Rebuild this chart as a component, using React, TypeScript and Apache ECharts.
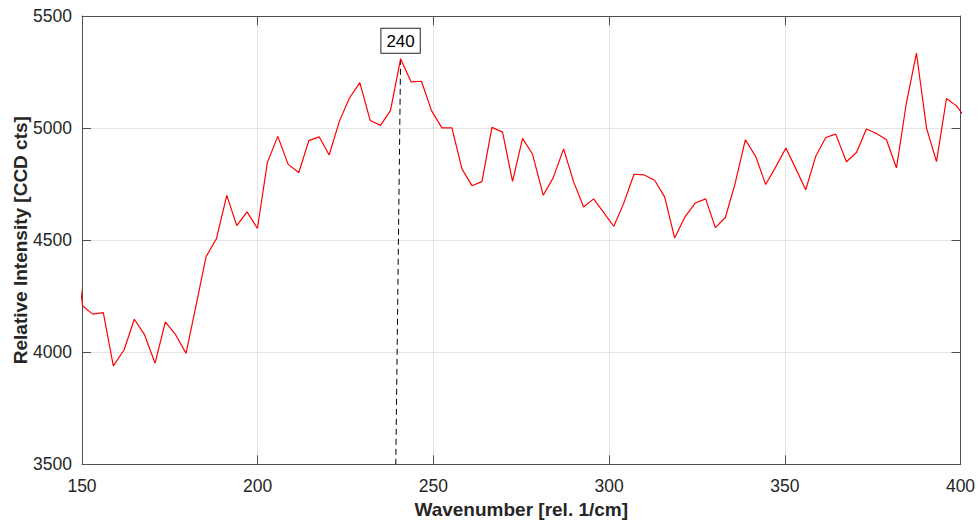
import React, { useEffect, useRef } from "react";
import * as echarts from "echarts";

// Wavenumber [rel. 1/cm]
const wavenumbers: number[] = [
  147.3, 150.2, 153.05, 156.06, 158.91, 161.96, 164.89, 167.74, 170.79, 173.72,
  176.68, 179.61, 182.46, 185.31, 188.24, 191.2, 194.05, 196.98, 199.92, 202.76,
  205.72, 208.66, 211.7, 214.55, 217.48, 220.33, 223.26, 226.11, 229.07, 232.0,
  234.94, 237.78, 240.66, 243.68, 246.61, 249.46, 252.42, 255.27, 258.12, 260.97,
  263.81, 266.66, 269.68, 272.52, 275.37, 278.22, 281.26, 284.11, 287.05, 289.89,
  292.74, 295.59, 298.43, 301.34, 304.13, 307.09, 310.02, 312.96, 315.8, 318.65,
  321.61, 324.54, 327.48, 330.24, 333.09, 335.85, 338.78, 341.71, 344.56, 347.46,
  350.31, 353.16, 355.95, 358.8, 361.65, 364.49, 367.54, 370.39, 373.23, 376.08,
  378.93, 381.78, 384.62, 387.47, 390.32, 393.17, 396.01, 398.86, 401.7,
];

// Relative Intensity [CCD cts]
const intensities: number[] = [
  4560, 4206, 4170, 4177, 3939, 4010, 4147, 4080, 3951, 4135,
  4077, 3995, 4209, 4426, 4506, 4700, 4565, 4626, 4552, 4847,
  4963, 4838, 4802, 4944, 4961, 4880, 5031, 5134, 5203, 5034,
  5012, 5078, 5309, 5206, 5209, 5078, 5001, 5001, 4818, 4743,
  4761, 5003, 4982, 4762, 4954, 4883, 4700, 4779, 4907, 4761,
  4648, 4684, 4624, 4562, 4663, 4794, 4791, 4767, 4693, 4510,
  4604, 4666, 4684, 4556, 4601, 4752, 4948, 4874, 4748, 4828,
  4911, 4818, 4725, 4874, 4958, 4973, 4850, 4891, 4996, 4976,
  4948, 4822, 5114, 5334, 5001, 4850, 5132, 5099, 5040,
];

const peakLabel = "240";
const peakLineBottomX = 239.3;

const xTicks = { min: 150, max: 400, interval: 50 };
const yTicks = { min: 3500, max: 5500, interval: 500 };

const FONT = "'Liberation Sans', Arial, Helvetica, sans-serif";
const TEXT = "#262626";
const AXIS = "#505050";
const GRID = "#e4e4e4";

export default function App() {
  const ref = useRef<HTMLDivElement>(null);

  useEffect(() => {
    if (!ref.current) return;
    const chart = echarts.init(ref.current, undefined, { renderer: "svg" });

    const lineData = wavenumbers.map((w, i) => [w, intensities[i]]);
    // labelled peak: highest point in the 230–250 region
    let pi = -1;
    for (let i = 0; i < intensities.length; i++) {
      if (wavenumbers[i] > 230 && wavenumbers[i] < 250) {
        if (pi < 0 || intensities[i] > intensities[pi]) pi = i;
      }
    }
    const peakX = wavenumbers[pi];
    const peakY = intensities[pi];

    const baseAxis = {
      axisLine: { show: true, onZero: false, lineStyle: { color: AXIS, width: 1 } },
      axisTick: { show: true, inside: true, length: 9, lineStyle: { color: AXIS, width: 1 } },
    };
    const plain = (v: number) => String(v);

    chart.setOption({
      animation: false,
      backgroundColor: "#ffffff",
      grid: {
        left: 82,
        right: 19.5,
        top: 16,
        bottom: 61.7,
        containLabel: false,
        outerBoundsMode: "none",
      },
      xAxis: [
        {
          type: "value",
          position: "bottom",
          ...xTicks,
          ...baseAxis,
          name: "Wavenumber [rel. 1/cm]",
          nameLocation: "middle",
          nameGap: 36,
          nameMoveOverlap: false,
          nameTextStyle: { fontFamily: FONT, fontSize: 19, fontWeight: "bold", color: TEXT },
          axisLabel: { fontFamily: FONT, fontSize: 17.5, color: TEXT, margin: 13, formatter: plain },
          splitLine: { show: true, lineStyle: { color: GRID, width: 1 } },
        },
        {
          type: "value",
          position: "top",
          ...xTicks,
          ...baseAxis,
          axisLabel: { show: false },
          splitLine: { show: false },
        },
      ],
      yAxis: [
        {
          type: "value",
          position: "left",
          ...yTicks,
          ...baseAxis,
          name: "Relative Intensity [CCD cts]",
          nameLocation: "middle",
          nameGap: 52,
          nameMoveOverlap: false,
          nameTextStyle: { fontFamily: FONT, fontSize: 19, fontWeight: "bold", color: TEXT },
          axisLabel: { fontFamily: FONT, fontSize: 17.5, color: TEXT, margin: 10, formatter: plain },
          splitLine: { show: true, lineStyle: { color: GRID, width: 1 } },
        },
        {
          type: "value",
          position: "right",
          ...yTicks,
          ...baseAxis,
          axisLabel: { show: false },
          splitLine: { show: false },
        },
      ],
      series: [
        {
          type: "line",
          data: [[peakX, peakY], [peakLineBottomX, yTicks.min]],
          showSymbol: false,
          symbol: "none",
          lineStyle: { color: "#000000", width: 1, type: [6, 4] },
          z: 3,
          silent: true,
        },
        {
          type: "line",
          data: lineData,
          showSymbol: false,
          symbol: "none",
          clip: true,
          lineStyle: { color: "#ff0000", width: 1.2 },
          z: 4,
          silent: true,
          markPoint: {
            symbol: "circle",
            symbolSize: 0,
            silent: true,
            data: [
              {
                coord: [peakX, peakY],
                label: {
                  show: true,
                  formatter: peakLabel,
                  position: "top",
                  distance: 6,
                  fontFamily: FONT,
                  fontSize: 17,
                  color: "#000000",
                  backgroundColor: "#ffffff",
                  borderColor: "#262626",
                  borderWidth: 1,
                  padding: [4, 5, 3, 5],
                },
              },
            ],
          },
        },
      ],
    });

    return () => chart.dispose();
  }, []);

  return (
    <div
      ref={ref}
      style={{ position: "fixed", left: 0, top: 0, width: 980, height: 526, background: "#fff" }}
    />
  );
}
